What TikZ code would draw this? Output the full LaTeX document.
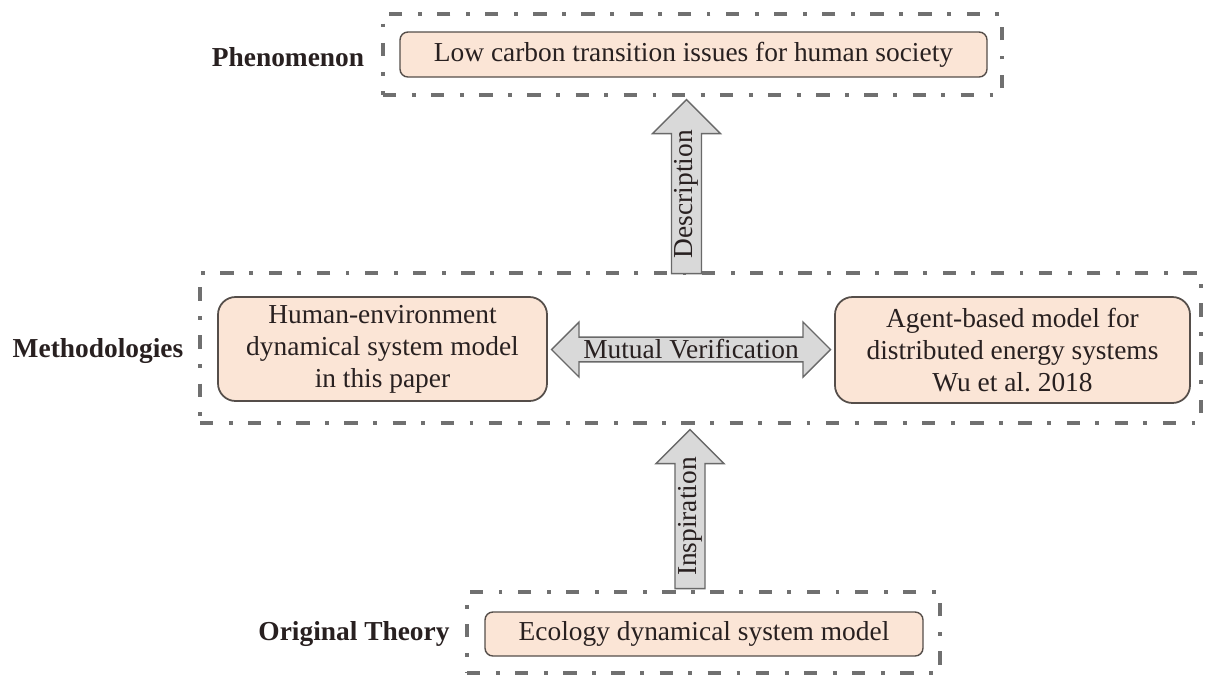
\documentclass[tikz,border=0pt]{standalone}
\usepackage{fontspec}
\setmainfont{Liberation Serif}
\usetikzlibrary{shapes.arrows,calc,fit}

\definecolor{peach}{RGB}{251,229,214}
\definecolor{boxLine}{RGB}{85,78,74}
\definecolor{frameGray}{RGB}{112,112,112}
\definecolor{arrowGray}{RGB}{217,217,217}
\definecolor{arrowLine}{RGB}{105,105,105}
\definecolor{inkDark}{RGB}{40,32,32}

\newcommand{\diagfont}{\fontsize{15.6}{18.2}\selectfont}
\def\u{0.02cm}

\tikzset{
    frame/.style={draw=frameGray, line width=1.8pt, dash pattern=on 7.6pt off 8.8pt on 2.2pt off 8.8pt, inner sep=0pt},
    box/.style={draw=boxLine, fill=peach, line width=.8pt, rounded corners=4.5pt, align=center, inner sep=0pt, text=inkDark, font=\diagfont},
    bigbox/.style={box, line width=1pt, rounded corners=10pt},
    lbl/.style={text=inkDark, font=\diagfont\bfseries},
    uparrow/.style={single arrow, draw=arrowLine, fill=arrowGray, line width=.8pt, inner sep=0pt, text=inkDark, font=\diagfont, rotate=90},
    botharrow/.style={double arrow, draw=arrowLine, fill=arrowGray, line width=.8pt, inner sep=0pt, text=inkDark, font=\diagfont}
}

\begin{document}
\begin{tikzpicture}[x=\u, y=-\u]
\useasboundingbox (0,0) rectangle (1205,674);

% dashed frames
\node[frame, fit={(383,14) (1002,95)}] (phenFrame) {};
\node[frame, fit={(200,273) (1201,423)}] (methFrame) {};
\node[frame, fit={(467,592) (940,673)}] (origFrame) {};

% level labels
\node[lbl] (phenLbl) at (288,57) {Phenomenon};
\node[lbl] (methLbl) at (98,351) {Methodologies};
\node[lbl] (origLbl) at (354,634) {Original Theory};

% boxes
\node[box, minimum width=587*\u, minimum height=45*\u] (phen) at (693.5,54.5) {Low carbon transition issues for human society};
\node[bigbox, minimum width=329*\u, minimum height=104*\u] (human) at (382.5,349) {Human-environment\\dynamical system model\\in this paper};
\node[bigbox, minimum width=355*\u, minimum height=106*\u] (agent) at (1012.5,350) {Agent-based model for\\distributed energy systems\\Wu et al.\ 2018};
\node[box, minimum width=438*\u, minimum height=44*\u] (ecol) at (704,634) {Ecology dynamical system model};

% block arrows
\node[uparrow, anchor=tip, minimum height=174*\u, minimum width=68*\u, single arrow head extend=16*\u] (desc) at ($(phenFrame.south)+(-6,2)$) {Description};
\node[uparrow, anchor=tip, minimum height=159*\u, minimum width=68*\u, single arrow head extend=16*\u] (insp) at ($(methFrame.south)+(-10.5,4)$) {Inspiration};
\node[botharrow, minimum height=279*\u, minimum width=55*\u, double arrow head extend=13*\u] (mutual) at ($(human.east)!.5!(agent.west)$) {Mutual Verification};
\end{tikzpicture}
\end{document}
